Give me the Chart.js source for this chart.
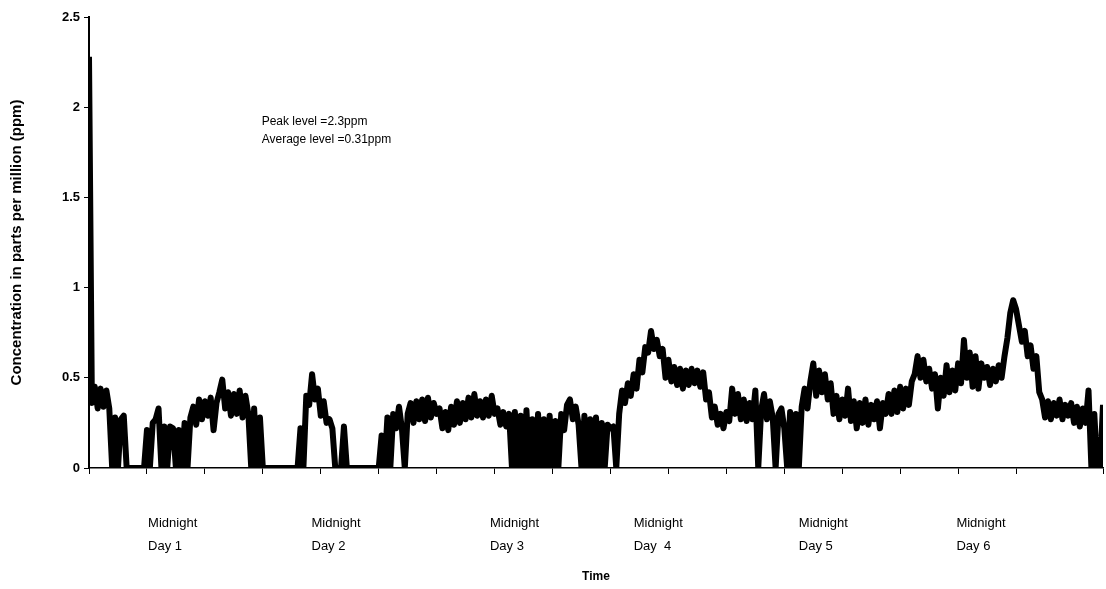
<!DOCTYPE html>
<html lang="en">
<head>
<meta charset="UTF-8" />
<title>Concentration</title>
<script src="https://cdn.jsdelivr.net/npm/chart.js@4.4.0/dist/chart.umd.min.js"></script>
<style>
    html, body { margin: 0; padding: 0; background: #fff; }
    #board { width: 1106px; height: 589px; }
</style>
</head>
<body>
<div id="board">
    <canvas id="chart1" width="1106" height="589"></canvas>
</div>
<script>
// one reading every half hour (x unit = hour)
const step = 0.5;
const ppm = [
    2.28, 0.36, 0.45, 0.33, 0.44, 0.34, 0.43, 0.33, 0, 0.28,
    0, 0.27, 0.29, 0, 0, 0, 0, 0, 0, 0,
    0.21, 0, 0.25, 0.27, 0.33, 0, 0.23, 0, 0.23, 0.22,
    0, 0.21, 0, 0.25, 0, 0.28, 0.34, 0.24, 0.38, 0.27,
    0.37, 0.29, 0.39, 0.21, 0.36, 0.42, 0.49, 0.33, 0.42, 0.29,
    0.41, 0.3, 0.43, 0.28, 0.4, 0.3, 0, 0.33, 0, 0.28,
    0, 0, 0, 0, 0, 0, 0, 0, 0, 0,
    0, 0, 0, 0.22, 0, 0.4, 0.35, 0.52, 0.38, 0.44,
    0.29, 0.37, 0.25, 0.27, 0.22, 0, 0, 0, 0.23, 0,
    0, 0, 0, 0, 0, 0, 0, 0, 0, 0,
    0, 0.18, 0, 0.28, 0, 0.3, 0.22, 0.34, 0.22, 0,
    0.3, 0.36, 0.25, 0.37, 0.27, 0.38, 0.26, 0.39, 0.28, 0.36,
    0.3, 0.33, 0.22, 0.31, 0.21, 0.34, 0.24, 0.37, 0.25, 0.36,
    0.27, 0.39, 0.28, 0.41, 0.29, 0.37, 0.28, 0.38, 0.29, 0.4,
    0.3, 0.33, 0.24, 0.31, 0.23, 0.3, 0, 0.31, 0, 0.29,
    0, 0.32, 0, 0.27, 0, 0.3, 0, 0.27, 0, 0.29,
    0, 0.26, 0, 0.3, 0.21, 0.35, 0.38, 0.27, 0.34, 0.24,
    0, 0.29, 0, 0.27, 0, 0.28, 0, 0.25, 0, 0.24,
    0.22, 0.23, 0, 0.3, 0.43, 0.36, 0.47, 0.4, 0.52, 0.44,
    0.6, 0.53, 0.67, 0.64, 0.76, 0.66, 0.71, 0.62, 0.66, 0.5,
    0.6, 0.48, 0.56, 0.46, 0.55, 0.44, 0.54, 0.46, 0.55, 0.47,
    0.54, 0.45, 0.53, 0.38, 0.42, 0.28, 0.34, 0.24, 0.3, 0.22,
    0.31, 0.26, 0.44, 0.3, 0.41, 0.27, 0.38, 0.26, 0.36, 0.27,
    0.43, 0, 0.32, 0.41, 0.27, 0.37, 0.28, 0, 0.3, 0.33,
    0.22, 0, 0.31, 0, 0.3, 0, 0.34, 0.44, 0.33, 0.48,
    0.58, 0.4, 0.54, 0.42, 0.52, 0.38, 0.47, 0.3, 0.4, 0.27,
    0.38, 0.29, 0.44, 0.26, 0.37, 0.22, 0.36, 0.25, 0.38, 0.24,
    0.35, 0.27, 0.37, 0.22, 0.36, 0.3, 0.41, 0.3, 0.43, 0.31,
    0.45, 0.33, 0.44, 0.35, 0.48, 0.52, 0.62, 0.5, 0.6, 0.48,
    0.55, 0.44, 0.52, 0.33, 0.5, 0.4, 0.57, 0.42, 0.54, 0.43,
    0.58, 0.47, 0.71, 0.5, 0.64, 0.45, 0.62, 0.44, 0.58, 0.5,
    0.56, 0.46, 0.55, 0.48, 0.57, 0.5, 0.62, 0.72, 0.86, 0.93,
    0.88, 0.79, 0.7, 0.76, 0.62, 0.68, 0.55, 0.62, 0.42, 0.38,
    0.28, 0.37, 0.27, 0.36, 0.29, 0.38, 0.27, 0.35, 0.29, 0.36,
    0.25, 0.34, 0.23, 0.33, 0.25, 0.43, 0, 0.3, 0, 0,
    0.35
];
const hours = ppm.map((v, i) => i * step);

const yTicks = [0, 0.5, 1, 1.5, 2, 2.5];
// where each midnight falls on the time axis (hours)
const midnightAt = [10.2, 38.4, 69.2, 94.0, 122.5, 149.7];
const midnightText = [
    ['Midnight', 'Day 1'],
    ['Midnight', 'Day 2'],
    ['Midnight', 'Day 3'],
    ['Midnight', 'Day  4'],
    ['Midnight', 'Day 5'],
    ['Midnight', 'Day 6'],
];
const notes = ['Peak level =2.3ppm', 'Average level =0.31ppm'];

const FONT = '"Liberation Sans", Arial, Helvetica, sans-serif';

// texts under the axis and the note inside the plot
const textPlugin = {
    id: 'textPlugin',
    afterDraw(chart) {
        const { ctx, chartArea } = chart;
        const x = chart.scales.x;
        const y = chart.scales.y;
        ctx.save();
        ctx.fillStyle = '#000';
        ctx.textBaseline = 'middle';
        ctx.textAlign = 'left';
        ctx.font = '13px ' + FONT;
        midnightAt.forEach((h, i) => {
            const px = x.getPixelForValue(h);
            ctx.fillText(midnightText[i][0], px, chartArea.bottom + 55);
            ctx.fillText(midnightText[i][1], px, chartArea.bottom + 78);
        });

        ctx.font = '12px ' + FONT;
        const nx = x.getPixelForValue(29.8);
        const ny = y.getPixelForValue(1.92);
        notes.forEach((t, i) => ctx.fillText(t, nx, ny + i * 18));

        ctx.textAlign = 'center';
        ctx.font = 'bold 12px ' + FONT;
        ctx.fillText('Time', (chartArea.left + chartArea.right) / 2, chartArea.bottom + 109);
        ctx.restore();
    },
};

const ctx = document.getElementById('chart1').getContext('2d');
new Chart(ctx, {
    type: 'line',
    data: {
        datasets: [
            {
                data: hours.map((h, i) => ({ x: h, y: ppm[i] })),
                borderColor: '#000',
                borderWidth: 6,
                borderJoinStyle: 'round',
                pointRadius: 0,
                tension: 0,
                fill: false,
            },
        ],
    },
    options: {
        responsive: false,
        animation: false,
        layout: { padding: { top: 17, right: 0, left: 0, bottom: 0 } },
        plugins: {
            legend: { display: false },
            tooltip: { enabled: false },
        },
        scales: {
            x: {
                type: 'linear',
                min: 0,
                max: 175,
                ticks: { stepSize: 10, callback: () => '', maxRotation: 0 },
                grid: { drawOnChartArea: false, tickLength: 6, color: '#000', lineWidth: 1 },
                border: { color: '#000', width: 1.5 },
                afterFit: (s) => { s.height = 121; },
            },
            y: {
                min: 0,
                max: 2.5,
                afterBuildTicks: (s) => { s.ticks = yTicks.map((v) => ({ value: v })); },
                ticks: {
                    color: '#000',
                    padding: 4,
                    font: { family: FONT, size: 13, weight: 'bold' },
                    callback: (v) => String(v),
                },
                grid: { drawOnChartArea: false, tickLength: 5, color: '#000', lineWidth: 1 },
                border: { color: '#000', width: 2 },
                title: {
                    display: true,
                    text: 'Concentration in parts per million (ppm)',
                    color: '#000',
                    font: { family: FONT, size: 15, weight: 'bold' },
                    padding: { top: 8, bottom: 0 },
                },
                afterFit: (s) => { s.width = 89; },
            },
        },
    },
    plugins: [textPlugin],
});
</script>
</body>
</html>
